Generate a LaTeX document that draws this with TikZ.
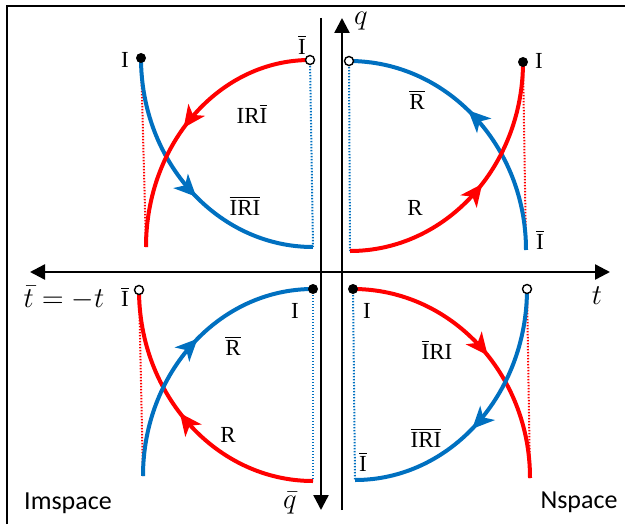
\documentclass[tikz,border=0pt]{standalone}
\usepackage{fontspec}
\setmainfont{Liberation Serif}
\newfontfamily\spacefont{Carlito}
\usetikzlibrary{arrows.meta,decorations.markings}
\definecolor{arcblue}{RGB}{0,112,192}
\definecolor{arcred}{RGB}{255,0,0}
\newcommand{\ovl}[1]{$\overline{\mbox{#1}}$}

\begin{document}
\begin{tikzpicture}[x=0.5pt,y=-0.5pt,
  axis/.style={line width=1.2pt,-{Triangle[length=7.5pt,width=7.5pt]}},
  flow/.style={line width=2pt,postaction={decorate},
    decoration={markings,mark=at position 0.54 with {\arrow{Stealth[length=11pt,width=10pt,inset=3pt]}}}},
  bluearc/.style={flow,color=arcblue},
  redarc/.style={flow,color=arcred},
  guide/.style={line width=1pt,dash pattern=on 0.7pt off 0.8pt},
  dot/.style={circle,fill=black,inner sep=0pt,minimum size=5pt},
  opendot/.style={circle,draw=black,fill=white,line width=0.7pt,inner sep=0pt,minimum size=4.5pt},
  lab/.style={font=\fontsize{11.5}{13}\selectfont,inner sep=0pt},
  var/.style={font=\fontsize{14}{16}\selectfont,inner sep=0pt},
  spacelab/.style={font=\spacefont\fontsize{13}{15}\selectfont,inner sep=0pt}
]
\useasboundingbox (0,0) rectangle (625,524);
\draw[line width=1pt] (7,524) -- (7,6) -- (625,6);

% axes
\coordinate (tl) at (30,272);
\coordinate (tr) at (610,272);
\coordinate (qtop) at (342,18);
\coordinate (qbot) at (342,510);
\coordinate (qbtop) at (321,18);
\coordinate (qbbot) at (321,510);
\draw[axis,{Triangle[length=7.5pt,width=7.5pt]}-{Triangle[length=7.5pt,width=7.5pt]}] (tl) -- (tr);
\draw[axis] (qbot) -- (qtop);
\draw[axis] (qbtop) -- (qbbot);

% end points of the arcs
\coordinate (q1o) at (349,61);  \coordinate (q1f) at (523,62);
\coordinate (q1b) at (526,250); \coordinate (q1r) at (350,251);
\coordinate (q2o) at (310,60);  \coordinate (q2f) at (141,58);
\coordinate (q2b) at (313,247); \coordinate (q2r) at (146,247);
\coordinate (q3o) at (139,290); \coordinate (q3f) at (313,289);
\coordinate (q3b) at (143,476); \coordinate (q3r) at (313,481);
\coordinate (q4o) at (527,289); \coordinate (q4f) at (353,289);
\coordinate (q4b) at (355,480); \coordinate (q4r) at (530,478);

% dotted guides
\draw[guide,arcblue] (q1o) -- (q1r);
\draw[guide,arcred] (q1f) -- (q1b);
\draw[guide,arcred] (q2f) -- (q2r);
\draw[guide,arcblue] (q2o) -- (q2b);
\draw[guide,arcred] (q3o) -- (q3b);
\draw[guide,arcblue] (q3f) -- (q3r);
\draw[guide,arcred] (q4o) -- (q4r);
\draw[guide,arcblue] (q4f) -- (q4b);

% arcs
\draw[bluearc] (q1b) arc[start angle=0,end angle=-90,x radius=177,y radius=189];
\draw[redarc] (q1r) arc[start angle=90,end angle=0,x radius=173,y radius=189];
\draw[bluearc] (q2f) arc[start angle=180,end angle=90,x radius=172,y radius=189];
\draw[redarc] (q2o) arc[start angle=-90,end angle=-180,x radius=164,y radius=187];
\draw[redarc] (q3r) arc[start angle=90,end angle=180,x radius=174,y radius=191];
\draw[bluearc] (q3b) arc[start angle=180,end angle=270,x radius=170,y radius=187];
\draw[redarc] (q4f) arc[start angle=-90,end angle=0,x radius=177,y radius=189];
\draw[bluearc] (q4o) arc[start angle=0,end angle=90,x radius=172,y radius=191];

% dots
\node[opendot] (d1o) at (q1o) {};
\node[dot] (d1f) at (q1f) {};
\node[opendot] (d2o) at (q2o) {};
\node[dot] (d2f) at (q2f) {};
\node[opendot] (d3o) at (q3o) {};
\node[dot] (d3f) at (q3f) {};
\node[opendot] (d4o) at (q4o) {};
\node[dot] (d4f) at (q4f) {};

% labels
\node[lab] (l1f) at (539,61) {I};
\node[lab] (l1rb) at (417,100) {\ovl{R}};
\node[lab] (l1r) at (415,208) {R};
\node[lab] (l1ib) at (540,240) {\ovl{I}};
\node[lab] (l2f) at (125,60) {I};
\node[lab] (l2ib) at (302,45) {\ovl{I}};
\node[lab] (l2up) at (252,114) {IR\ovl{I}};
\node[lab] (l2dn) at (245,206) {\ovl{IRI}};
\node[lab] (l3ib) at (125,297) {\ovl{I}};
\node[lab] (l3f) at (295,311) {I};
\node[lab] (l3rb) at (233,346) {\ovl{R}};
\node[lab] (l3r) at (228,435) {R};
\node[lab] (l4f) at (367,311) {I};
\node[lab] (l4up) at (437,350) {\ovl{I}RI};
\node[lab] (l4dn) at (426,438) {\ovl{IRI}};
\node[lab] (l4ib) at (363,462) {\ovl{I}};

\node[var] (lq) at (361,21) {$q$};
\node[var] (lt) at (597,296) {$t$};
\node[var] (ltb) at (64,298) {$\bar{t}=-t$};
\node[var] (lqb) at (290,503) {$\bar{q}$};
\node[spacelab] (lim) at (68,503) {Imspace};
\node[spacelab] (lns) at (579,502) {Nspace};
\end{tikzpicture}
\end{document}
